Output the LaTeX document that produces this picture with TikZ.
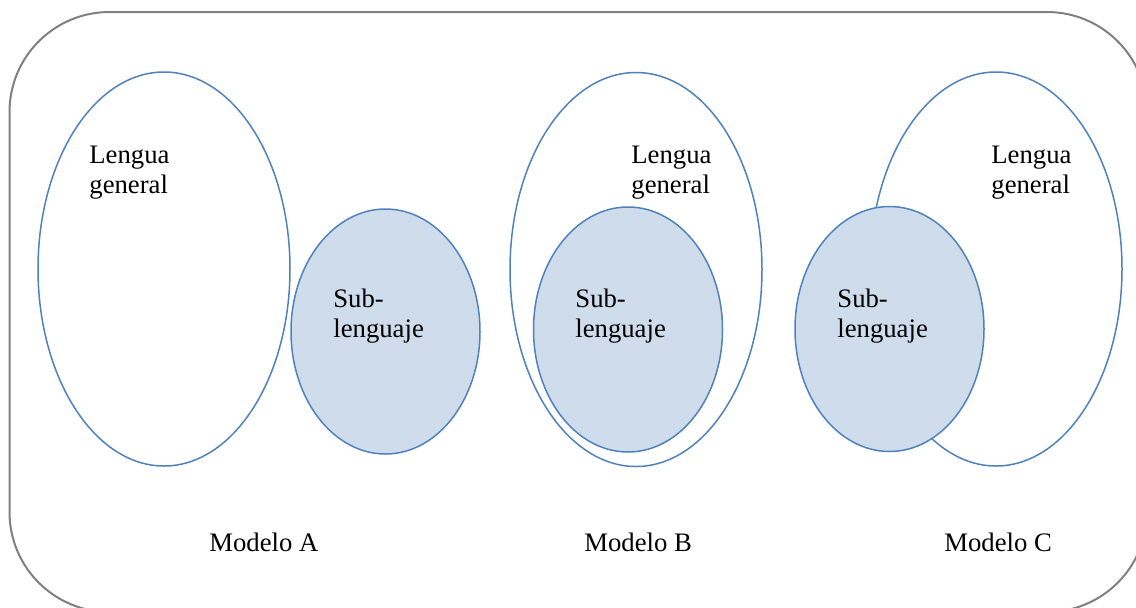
\documentclass[tikz,border=0pt]{standalone}
\usepackage{fontspec}
\setmainfont{Liberation Serif}
\usepackage{tikz}
\usetikzlibrary{shapes.geometric}
\definecolor{setline}{RGB}{79,129,189}
\definecolor{setfill}{RGB}{207,220,235}
\definecolor{frameline}{RGB}{128,128,128}
\tikzset{bigset/.style={ellipse, draw=setline, line width=0.75pt, fill=white, inner sep=0pt, minimum width=126pt, minimum height=197pt},}
\tikzset{subset/.style={ellipse, draw=setline, line width=0.75pt, fill=setfill, inner sep=0pt, minimum width=94.5pt, minimum height=122.5pt},}
\tikzset{txt/.style={align=left, inner sep=0pt, anchor=base west, font=\fontsize{13.35}{15}\selectfont},}

\begin{document}
\begin{tikzpicture}[x=0.5pt,y=-0.5pt]
\useasboundingbox (0,0) rectangle (1136,607);
\draw[frameline, line width=1pt, rounded corners=50pt] (9.5,12) rectangle (1147,612);
% modelo A
\node [bigset] (genA) at (164,269) {};
\node [subset] (subA) at (385.5,331.5) {};
\node [txt] (lgA) at (89,193) {Lengua\\general};
\node [txt] (slA) at (333,337) {Sub-\\lenguaje};
\node [txt] (mA) at (209,551) {Modelo A};
% modelo B
\node [bigset] (genB) at (636,269.5) {};
\node [subset] (subB) at (628,329.5) {};
\node [txt] (lgB) at (631,193) {Lengua\\general};
\node [txt] (slB) at (575,337) {Sub-\\lenguaje};
\node [txt] (mB) at (584,551) {Modelo B};
% modelo C
\node [bigset] (genC) at (996,269) {};
\node [subset] (subC) at (889.5,329) {};
\node [txt] (lgC) at (991,193) {Lengua\\general};
\node [txt] (slC) at (837,337) {Sub-\\lenguaje};
\node [txt] (mC) at (944,551) {Modelo C};
\end{tikzpicture}
\end{document}
